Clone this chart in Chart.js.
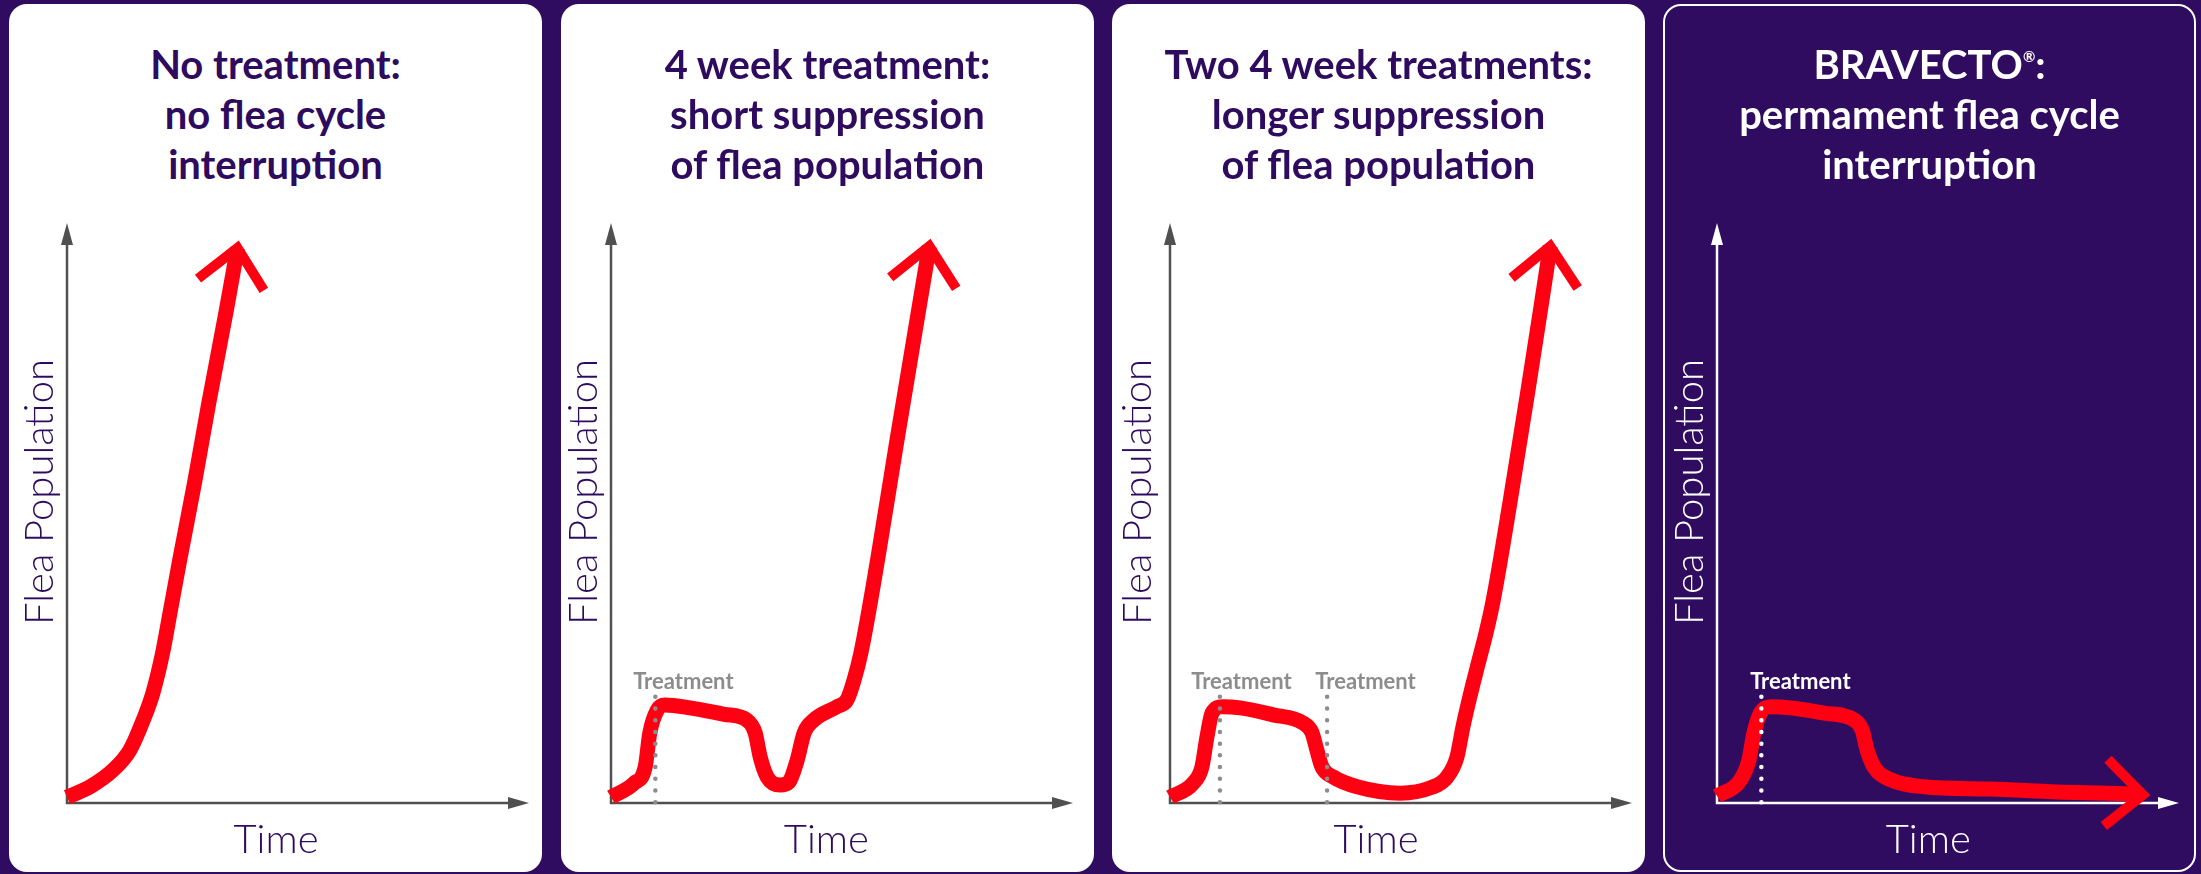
<!DOCTYPE html>
<html>
<head>
<meta charset="utf-8">
<script src="https://cdn.jsdelivr.net/npm/chart.js@4.4.0/dist/chart.umd.min.js"></script>
<style>
html, body { margin: 0; padding: 0; width: 2201px; height: 874px; overflow: hidden; background: #2f0c5f; }
.panel { position: absolute; top: 4px; width: 533px; height: 868px; background: #fff; border-radius: 18px; box-sizing: border-box; }
.panel.dark { background: #2f0c5f; border: 2px solid #fff; }
.ttl { position: absolute; top: 39px; width: 533px; text-align: center; font: 700 40px/50px Lato, sans-serif; color: #2e0b5e; }
.ttl.dark { color: #fff; }
.ttl sup { font-size: 15px; line-height: 0; vertical-align: 17px; }
canvas { position: absolute; top: 180px; }
</style>
</head>
<body>
<script>
// titles of the four panels
const panelTitles = [
	['No treatment:', 'no flea cycle', 'interruption'],
	['4 week treatment:', 'short suppression', 'of flea population'],
	['Two 4 week treatments:', 'longer suppression', 'of flea population'],
	['BRAVECTO®:', 'permament flea cycle', 'interruption']
];
const xTitle = 'Time';
const yTitle = 'Flea Population';
const markerLabel = 'Treatment';

// values in % of axis length (100 = arrow tip)
const noTreatTime  = [0, 5.0, 10.0, 13.6, 16.5, 18.6, 20.7, 22.3, 24.4, 27.6, 30.7, 34.5, 36.9];
const noTreatFleas = [1.0, 2.8, 5.7, 9.1, 14.3, 19.0, 25.9, 32.8, 41.9, 55.2, 69.0, 85.0, 95.7];

const fourWeekTime  = [0, 5.0, 7.4, 8.4, 10.0, 11.7, 17.1, 24.5, 29.4, 31.2, 32.3, 33.8, 36.6, 38.5, 40.3, 41.8, 43.9, 48.9, 51.1, 52.6, 54.1, 57.8, 61.7, 68.9];
const fourWeekFleas = [1.0, 3.4, 6.2, 12.1, 16.0, 16.9, 16.4, 15.3, 14.3, 12.1, 7.9, 4.5, 3.1, 3.6, 7.4, 12.1, 14.3, 16.6, 17.8, 21.2, 25.9, 42.4, 61.6, 96.0];

const twoTreatTime  = [0, 5.0, 6.9, 8.0, 9.1, 11.3, 15.2, 22.3, 28.8, 30.7, 31.8, 32.9, 35.3, 40.5, 49.8, 56.3, 60.0, 62.1, 63.4, 64.9, 66.5, 68.4, 69.9, 73.6, 77.5, 80.5, 82.3];
const twoTreatFleas = [1.0, 3.4, 6.2, 11.4, 15.5, 16.6, 16.4, 15.2, 13.8, 12.2, 9.1, 6.2, 4.5, 2.8, 1.7, 2.6, 4.5, 7.9, 13.1, 18.3, 23.4, 29.3, 34.7, 51.9, 71.2, 86.6, 96.0];

const bravectoTime  = [0, 5.1, 6.9, 8.0, 9.4, 11.6, 15.9, 23.2, 29.7, 31.4, 32.5, 34.0, 37.6, 44.8, 59.2, 73.6, 88.1, 92.2];
const bravectoFleas = [1.2, 4.0, 7.4, 12.1, 15.5, 16.6, 16.4, 15.5, 14.3, 12.6, 9.1, 6.2, 4.0, 2.8, 2.4, 1.9, 1.6, 1.4];

// treatment moments on the time axis
const treatTimes = [[], [9.6], [10.8, 34.0], [9.6]];

const series = [
	[noTreatTime, noTreatFleas],
	[fourWeekTime, fourWeekFleas],
	[twoTreatTime, twoTreatFleas],
	[bravectoTime, bravectoFleas]
];

// layout of each panel (page pixels)
const PX_X = 4.62, PX_Y = 5.8;
const panels = [
	{ left: 9,    axisX: 67,   timeOff: 209,   yOff: -27,   dark: false, labelDx: [] },
	{ left: 561,  axisX: 611,  timeOff: 215.4, yOff: -27,   dark: false, labelDx: [28] },
	{ left: 1112, axisX: 1170, timeOff: 206,   yOff: -31.5, dark: false, labelDx: [21.5, 38.5] },
	{ left: 1663, axisX: 1717, timeOff: 211.3, yOff: -27,   dark: true,  labelDx: [39] }
];

const purple = '#2e0b5e';
const red = '#ff0013';

const arrowAxes = {
	id: 'arrowAxes',
	beforeDatasetsDraw(chart, args, opts) {
		const { ctx, scales: { x, y } } = chart;
		const x0 = x.getPixelForValue(0), y0 = y.getPixelForValue(0);
		const xt = x.getPixelForValue(100), yt = y.getPixelForValue(100);
		ctx.save();
		ctx.strokeStyle = opts.color;
		ctx.fillStyle = opts.color;
		ctx.lineWidth = 2.5;
		ctx.beginPath();
		ctx.moveTo(x0, y0 + 1.2);
		ctx.lineTo(x0, yt + 20);
		ctx.moveTo(x0 - 1.2, y0);
		ctx.lineTo(xt - 19, y0);
		ctx.stroke();
		ctx.beginPath();
		ctx.moveTo(x0, yt);
		ctx.lineTo(x0 - 6, yt + 22);
		ctx.lineTo(x0 + 6, yt + 22);
		ctx.closePath();
		ctx.fill();
		ctx.beginPath();
		ctx.moveTo(xt, y0);
		ctx.lineTo(xt - 21, y0 - 6);
		ctx.lineTo(xt - 21, y0 + 6);
		ctx.closePath();
		ctx.fill();
		ctx.restore();
	},
	afterDatasetsDraw(chart, args, opts) {
		const { ctx, scales: { x, y } } = chart;
		// arrow head at the end of the curve
		const pts = chart.getDatasetMeta(0).data;
		const a = pts[pts.length - 2], b = pts[pts.length - 1];
		const ang = Math.atan2(b.y - a.y, b.x - a.x);
		const len = 50, spread = 42 * Math.PI / 180;
		ctx.save();
		ctx.strokeStyle = red;
		ctx.lineWidth = 10;
		ctx.lineJoin = 'miter';
		ctx.beginPath();
		ctx.moveTo(b.x - len * Math.cos(ang - spread), b.y - len * Math.sin(ang - spread));
		ctx.lineTo(b.x, b.y);
		ctx.lineTo(b.x - len * Math.cos(ang + spread), b.y - len * Math.sin(ang + spread));
		ctx.stroke();
		// treatment markers
		const y0 = y.getPixelForValue(0);
		const yTop = y.getPixelForValue(18.3);
		opts.treat.forEach((t, i) => {
			const px = x.getPixelForValue(t);
			ctx.strokeStyle = opts.markColor;
			ctx.lineWidth = 4.5;
			ctx.lineCap = 'round';
			ctx.setLineDash([0, 11.7]);
			ctx.beginPath();
			ctx.moveTo(px, yTop);
			ctx.lineTo(px, y0);
			ctx.stroke();
			ctx.setLineDash([]);
			ctx.fillStyle = opts.markColor;
			ctx.font = '700 22px Lato, sans-serif';
			ctx.textAlign = 'center';
			ctx.textBaseline = 'middle';
			ctx.fillText(markerLabel, px + opts.labelDx[i], y.getPixelForValue(20.9));
		});
		ctx.restore();
	}
};

panels.forEach((p, i) => {
	const box = document.createElement('div');
	box.className = 'panel' + (p.dark ? ' dark' : '');
	box.style.left = p.left + 'px';
	document.body.appendChild(box);

	const ttl = document.createElement('div');
	ttl.className = 'ttl' + (p.dark ? ' dark' : '');
	ttl.style.left = p.left + 'px';
	ttl.innerHTML = panelTitles[i].map(s => s.replace('®', '<sup>®</sup>')).join('<br>');
	document.body.appendChild(ttl);

	const cv = document.createElement('canvas');
	const cw = 560, ch = 690;
	cv.width = cw; cv.height = ch;
	cv.style.left = (p.axisX - 80) + 'px';
	document.body.appendChild(cv);

	const areaW = 2 * p.timeOff;
	const titleC = 80 + p.yOff;
	const yPadTop = titleC - 24;
	const yPadBottom = 80 - 48 - yPadTop;
	const txtColor = p.dark ? '#ffffff' : purple;

	const pts = series[i][0].map((t, k) => ({ x: t, y: series[i][1][k] }));

	new Chart(cv, {
		type: 'line',
		data: {
			datasets: [{
				data: pts,
				borderColor: red,
				borderWidth: 15,
				pointRadius: 0,
				fill: false,
				clip: false,
				cubicInterpolationMode: 'monotone',
				borderJoinStyle: 'round'
			}]
		},
		options: {
			responsive: false,
			animation: false,
			devicePixelRatio: 1,
			events: [],
			layout: { autoPadding: false, padding: { left: 0, top: 1, bottom: 0, right: cw - 80 - areaW } },
			plugins: {
				legend: { display: false },
				tooltip: { enabled: false },
				arrowAxes: {
					color: p.dark ? '#ffffff' : '#505050',
					markColor: p.dark ? '#ffffff' : '#8c8c8c',
					treat: treatTimes[i],
					labelDx: p.labelDx
				}
			},
			scales: {
				x: {
					type: 'linear', min: 0, max: areaW / PX_X,
					grid: { display: false, drawTicks: false },
					border: { display: false },
					ticks: { display: false },
					title: {
						display: true, text: xTitle, color: txtColor,
						font: { family: 'Lato', weight: 300, size: 40, lineHeight: 1.2 },
						padding: { top: 13, bottom: 6 }
					}
				},
				y: {
					type: 'linear', min: 0, max: 622 / PX_Y,
					grid: { display: false, drawTicks: false },
					border: { display: false },
					ticks: { display: false },
					title: {
						display: true, text: yTitle, color: txtColor,
						font: { family: 'Lato', weight: 300, size: 40, lineHeight: 1.2 },
						padding: { top: yPadTop, bottom: yPadBottom }
					}
				}
			}
		},
		plugins: [arrowAxes]
	});
});
</script>
</body>
</html>
